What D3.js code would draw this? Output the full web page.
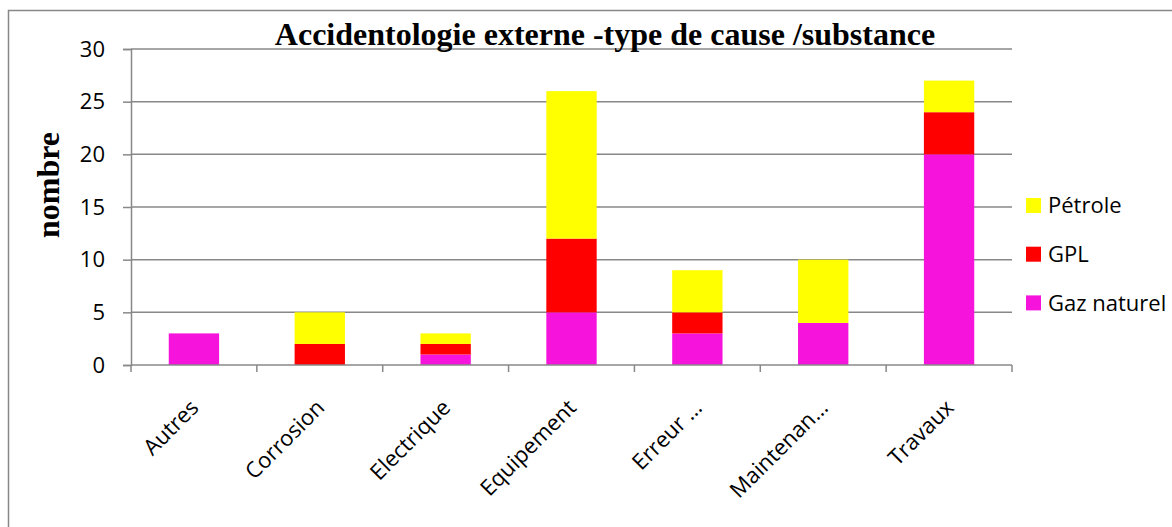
<!DOCTYPE html>
<html>
<head>
<meta charset="utf-8">
<script src="https://cdn.jsdelivr.net/npm/d3@7"></script>
<style>
  body { margin: 0; background: #fff; }
  svg { display: block; }
</style>
</head>
<body>
<script>
// Causes of external accidents, stacked by substance
var categories = ["Autres", "Corrosion", "Electrique", "Equipement", "Erreur …", "Maintenan…", "Travaux"];
var gazNaturel = [3, 0, 1, 5, 3, 4, 20];
var gpl = [0, 2, 1, 7, 2, 0, 4];
var petrole = [0, 3, 1, 14, 4, 6, 3];
var seriesNames = ["Gaz naturel", "GPL", "Pétrole"];
var seriesColors = ["#f614dc", "#ff0000", "#ffff00"];
var yTicks = [0, 5, 10, 15, 20, 25, 30];

(function() {
    var width = 1172, height = 527;
    // plot area edges
    var plotLeft = 131, plotRight = 1012, plotTop = 49, plotBottom = 365;
    var sans = "'Open Sans', sans-serif",
        serif = "'Liberation Serif', 'Times New Roman', serif";

    var svg = d3.select("body").append("svg")
        .attr("width", width)
        .attr("height", height);

    // outer chart frame (only left and top edges fall inside the picture)
    svg.append("rect")
        .attr("x", 8.5).attr("y", 10.5)
        .attr("width", 1200).attr("height", 600)
        .attr("fill", "none")
        .attr("stroke", "#888")
        .attr("stroke-width", 1.5);

    // rows for the stack
    var rows = categories.map(function(c, i) {
        return { cat: c, "Gaz naturel": gazNaturel[i], "GPL": gpl[i], "Pétrole": petrole[i] };
    });
    var stacked = d3.stack().keys(seriesNames)(rows);

    var x = d3.scaleBand()
        .domain(categories)
        .range([plotLeft, plotRight])
        .paddingInner(0.6)
        .paddingOuter(0.3);

    var y = d3.scaleLinear()
        .domain([0, 30])
        .range([plotBottom, plotTop]);

    // gridlines
    svg.append("g")
        .selectAll("line")
        .data(yTicks.slice(1))
        .enter().append("line")
        .attr("x1", plotLeft).attr("x2", plotRight)
        .attr("y1", function(d) { return y(d); })
        .attr("y2", function(d) { return y(d); })
        .attr("stroke", "#888")
        .attr("stroke-width", 1.5);

    // bars
    svg.append("g")
        .selectAll("g")
        .data(stacked)
        .enter().append("g")
        .attr("fill", function(d, i) { return seriesColors[i]; })
        .selectAll("rect")
        .data(function(d) { return d; })
        .enter().append("rect")
        .attr("x", function(d) { return x(d.data.cat); })
        .attr("width", x.bandwidth())
        .attr("y", function(d) { return y(d[1]); })
        .attr("height", function(d) { return y(d[0]) - y(d[1]); });

    // y axis
    var yAxis = svg.append("g")
        .attr("transform", "translate(" + plotLeft + ",0)")
        .call(d3.axisLeft(y).tickValues(yTicks).tickSize(8).tickPadding(18));
    yAxis.select(".domain").attr("stroke", "#888").attr("stroke-width", 1.5);
    yAxis.selectAll(".tick line").attr("stroke", "#888").attr("stroke-width", 1.5);
    yAxis.selectAll("text")
        .attr("font-family", sans)
        .attr("font-size", 22)
        .attr("fill", "#000");

    // x axis: ticks at category boundaries
    var step = x.step();
    var xAxis = svg.append("g");
    xAxis.append("line")
        .attr("x1", plotLeft).attr("x2", plotRight)
        .attr("y1", plotBottom).attr("y2", plotBottom)
        .attr("stroke", "#888").attr("stroke-width", 1.5);
    xAxis.selectAll(".xt")
        .data(d3.range(categories.length + 1))
        .enter().append("line")
        .attr("x1", function(i) { return plotLeft + i * step; })
        .attr("x2", function(i) { return plotLeft + i * step; })
        .attr("y1", plotBottom).attr("y2", plotBottom + 7)
        .attr("stroke", "#888").attr("stroke-width", 1.5);

    xAxis.selectAll("text")
        .data(categories)
        .enter().append("text")
        .attr("transform", function(d) {
            return "translate(" + (x(d) + x.bandwidth() / 2 - 5) + "," + 398 + ") rotate(-45)";
        })
        .attr("dy", "0.71em")
        .attr("text-anchor", "end")
        .attr("font-family", sans)
        .attr("font-size", 22)
        .text(function(d) { return d; });

    // title
    svg.append("text")
        .attr("x", 605).attr("y", 45)
        .attr("text-anchor", "middle")
        .attr("font-family", serif)
        .attr("font-weight", "bold")
        .attr("font-size", 32)
        .text("Accidentologie externe -type de cause /substance");

    // y axis title
    svg.append("text")
        .attr("transform", "translate(59,185) rotate(-90)")
        .attr("text-anchor", "middle")
        .attr("font-family", serif)
        .attr("font-weight", "bold")
        .attr("font-size", 32)
        .text("nombre");

    // legend, Pétrole on top
    var legendItems = seriesNames.slice().reverse();
    var legendColors = seriesColors.slice().reverse();
    var legend = svg.append("g")
        .selectAll("g")
        .data(legendItems)
        .enter().append("g")
        .attr("transform", function(d, i) { return "translate(1026," + (205.5 + i * 48.7) + ")"; });
    legend.append("rect")
        .attr("x", 0).attr("y", -7.5)
        .attr("width", 15).attr("height", 15)
        .attr("fill", function(d, i) { return legendColors[i]; });
    legend.append("text")
        .attr("x", 22).attr("y", 0)
        .attr("dy", "0.36em")
        .attr("font-family", sans)
        .attr("font-size", 22)
        .text(function(d) { return d; });
})();
</script>
</body>
</html>
